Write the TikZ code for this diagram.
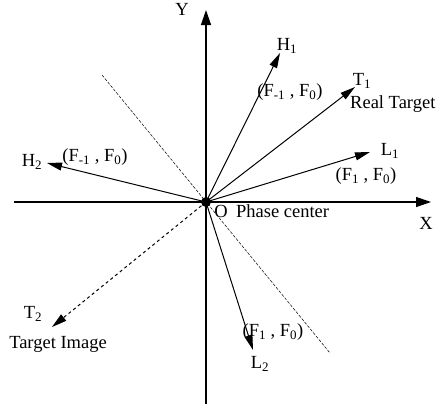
\documentclass[tikz,border=0pt]{standalone}
\usepackage{fontspec}
\setmainfont{Liberation Serif}
\usetikzlibrary{arrows.meta,positioning}

\begin{document}
\begin{tikzpicture}[
  x=1pt, y=-1pt,
  lbl/.style={inner sep=0pt, font=\fontsize{18.5}{21}\selectfont},
  axis/.style={-{Triangle[length=15pt,width=10pt]}, line width=1.3pt},
  vec/.style={-{Triangle[length=15pt,width=8pt]}, line width=1pt},
  guide/.style={dash pattern=on 3pt off 1.5pt, line width=0.5pt},
  dot/.style={circle, fill=black, inner sep=0pt, minimum size=10pt}
]
\useasboundingbox (0,0) rectangle (438,408);

% axes
\coordinate (O) at (206,202);
\coordinate (xl) at (14,202);
\coordinate (xr) at (431,202);
\coordinate (yb) at (206,404);
\coordinate (yt) at (206,10);
\draw[line width=1.3pt] (xl) -- (O);
\draw[axis] (O) -- (xr);
\draw[line width=1.3pt] (yb) -- (O);
\draw[axis] (O) -- (yt);

% symmetry line
\coordinate (g1) at (102,75);
\coordinate (g2) at (330,353);
\draw[guide] (g1) -- (g2);

% vector tips
\coordinate (h1) at (280,53);
\coordinate (t1) at (355,87);
\coordinate (l1) at (370,152);
\coordinate (h2) at (47,163);
\coordinate (t2) at (52,327);
\coordinate (l2) at (253,350);

\draw[vec] (O) -- (h1);
\draw[vec] (O) -- (t1);
\draw[vec] (O) -- (l1);
\draw[vec] (O) -- (h2);
\draw[vec] (O) -- (l2);
\draw[vec, dashed] (O) -- (t2);
\node[dot] (odot) at (O) {};

% labels
\node[lbl] (ylab) at (182,9) {Y};
\node[lbl] (xlab) at (426,223) {X};
\node[lbl] (olab) at (221,211) {O};
\node[lbl, right=8pt of olab] (phase) {Phase center};

\node[lbl] (h1lab) at (287,46) {H\textsubscript{1}};
\node[lbl] (h1f) at (290,92) {(F\textsubscript{-1} , F\textsubscript{0})};
\node[lbl] (t1lab) at (362,81) {T\textsubscript{1}};
\node[lbl, anchor=west] (real) at (350,104) {Real Target};
\node[lbl] (l1lab) at (390,151) {L\textsubscript{1}};
\node[lbl] (l1f) at (366,176) {(F\textsubscript{1} , F\textsubscript{0})};

\node[lbl] (h2lab) at (32,162) {H\textsubscript{2}};
\node[lbl] (h2f) at (95,157) {(F\textsubscript{-1} , F\textsubscript{0})};
\node[lbl] (t2lab) at (33,314) {T\textsubscript{2}};
\node[lbl] (image) at (58,344) {Target Image};
\node[lbl] (l2lab) at (260,364) {L\textsubscript{2}};
\node[lbl] (l2f) at (273,332) {(F\textsubscript{1} , F\textsubscript{0})};
\end{tikzpicture}
\end{document}
